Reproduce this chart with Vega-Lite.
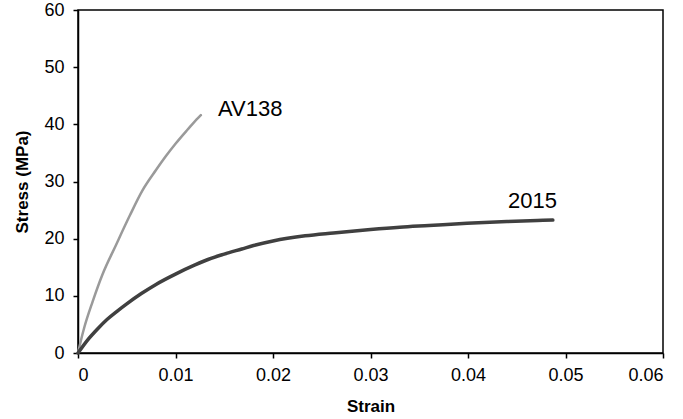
{
  "$schema": "https://vega.github.io/schema/vega-lite/v6.json",
  "width": 585,
  "height": 343,
  "autosize": {"type": "none"},
  "padding": {"left": 78, "top": 10, "right": 20, "bottom": 66},
  "background": "white",
  "config": {
    "font": "Liberation Sans",
    "view": {"stroke": "#000000", "strokeWidth": 1.5}
  },
  "datasets": {
    "curves": [
      {"series": "AV138", "strain": 0, "stress": 0},
      {"series": "AV138", "strain": 0.0003, "stress": 2.2},
      {"series": "AV138", "strain": 0.00065, "stress": 4.5},
      {"series": "AV138", "strain": 0.0015, "stress": 9.0},
      {"series": "AV138", "strain": 0.0025, "stress": 13.7},
      {"series": "AV138", "strain": 0.0039, "stress": 18.9},
      {"series": "AV138", "strain": 0.0053, "stress": 24.0},
      {"series": "AV138", "strain": 0.0066, "stress": 28.4},
      {"series": "AV138", "strain": 0.008, "stress": 32.0},
      {"series": "AV138", "strain": 0.009, "stress": 34.4},
      {"series": "AV138", "strain": 0.01, "stress": 36.6},
      {"series": "AV138", "strain": 0.0112, "stress": 39.0},
      {"series": "AV138", "strain": 0.0123, "stress": 41.1},
      {"series": "AV138", "strain": 0.0126, "stress": 41.6},
      {"series": "2015", "strain": 0, "stress": 0},
      {"series": "2015", "strain": 0.001, "stress": 2.3},
      {"series": "2015", "strain": 0.002, "stress": 4.2},
      {"series": "2015", "strain": 0.003, "stress": 5.9},
      {"series": "2015", "strain": 0.004, "stress": 7.3},
      {"series": "2015", "strain": 0.005, "stress": 8.6},
      {"series": "2015", "strain": 0.0065, "stress": 10.4},
      {"series": "2015", "strain": 0.008, "stress": 12.0},
      {"series": "2015", "strain": 0.01, "stress": 13.8},
      {"series": "2015", "strain": 0.012, "stress": 15.4},
      {"series": "2015", "strain": 0.0134, "stress": 16.4},
      {"series": "2015", "strain": 0.015, "stress": 17.3},
      {"series": "2015", "strain": 0.0168, "stress": 18.2},
      {"series": "2015", "strain": 0.018, "stress": 18.8},
      {"series": "2015", "strain": 0.02, "stress": 19.6},
      {"series": "2015", "strain": 0.0233, "stress": 20.5},
      {"series": "2015", "strain": 0.0262, "stress": 21.0},
      {"series": "2015", "strain": 0.03, "stress": 21.6},
      {"series": "2015", "strain": 0.033, "stress": 22.0},
      {"series": "2015", "strain": 0.036, "stress": 22.3},
      {"series": "2015", "strain": 0.0399, "stress": 22.7},
      {"series": "2015", "strain": 0.044, "stress": 23.0},
      {"series": "2015", "strain": 0.0477, "stress": 23.2},
      {"series": "2015", "strain": 0.0487, "stress": 23.25}
    ],
    "labels": [
      {"series": "AV138", "strain": 0.01436, "stress": 41.5},
      {"series": "2015", "strain": 0.0441, "stress": 25.4}
    ]
  },
  "layer": [
    {
      "data": {"name": "curves"},
      "mark": {"type": "line", "interpolate": "monotone", "strokeCap": "round", "strokeJoin": "round"},
      "encoding": {
        "x": {
          "field": "strain", "type": "quantitative",
          "scale": {"domain": [0, 0.06], "nice": false},
          "axis": {
            "values": [0, 0.01, 0.02, 0.03, 0.04, 0.05, 0.06],
            "format": "~g",
            "title": "Strain",
            "grid": false,
            "domainColor": "#000000", "domainWidth": 1.5,
            "tickColor": "#000000", "tickWidth": 1.5, "tickSize": 5,
            "labelFont": "Liberation Sans", "labelFontSize": 18, "labelColor": "#000000",
            "labelPadding": 8,
            "titleFont": "Liberation Sans", "titleFontSize": 17, "titleFontWeight": "bold", "titleColor": "#000000",
            "titlePadding": 14
          }
        },
        "y": {
          "field": "stress", "type": "quantitative",
          "scale": {"domain": [0, 60], "nice": false},
          "axis": {
            "values": [0, 10, 20, 30, 40, 50, 60],
            "title": "Stress (MPa)",
            "grid": false,
            "domainColor": "#000000", "domainWidth": 1.5,
            "tickColor": "#000000", "tickWidth": 1.5, "tickSize": 5,
            "labelFont": "Liberation Sans", "labelFontSize": 18, "labelColor": "#000000",
            "labelPadding": 9,
            "titleFont": "Liberation Sans", "titleFontSize": 17, "titleFontWeight": "bold", "titleColor": "#000000",
            "titlePadding": 12
          }
        },
        "color": {
          "field": "series", "type": "nominal",
          "scale": {"domain": ["AV138", "2015"], "range": ["#9a9a9a", "#404040"]},
          "legend": null
        },
        "strokeWidth": {
          "field": "series", "type": "nominal",
          "scale": {"domain": ["AV138", "2015"], "range": [2.5, 3.5]},
          "legend": null
        }
      }
    },
    {
      "data": {"name": "labels"},
      "mark": {"type": "text", "align": "left", "baseline": "alphabetic", "font": "Liberation Sans", "fontSize": 22, "color": "#000000"},
      "encoding": {
        "x": {"field": "strain", "type": "quantitative"},
        "y": {"field": "stress", "type": "quantitative"},
        "text": {"field": "series", "type": "nominal"}
      }
    }
  ]
}
